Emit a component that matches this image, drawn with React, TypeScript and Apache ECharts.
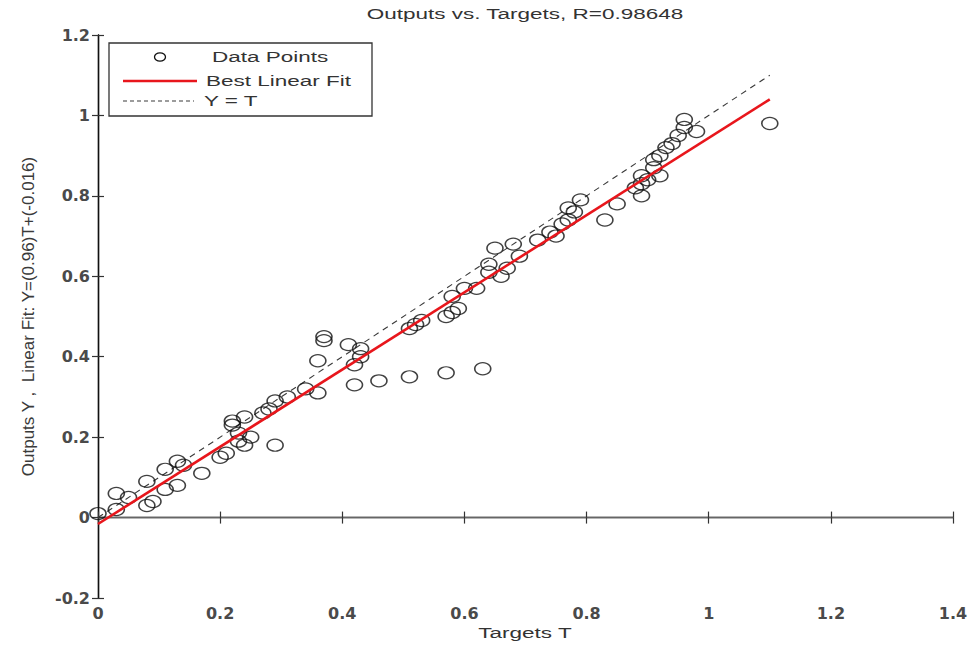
import React, { useEffect, useRef } from "react";
import * as echarts from "echarts";

const titleText = "Outputs vs. Targets, R=0.98648";
const xAxisName = "Targets T";
const yAxisName = "Outputs Y ,  Linear Fit: Y=(0.96)T+(-0.016)";
const legendLabels = ["Data Points", "Best Linear Fit", "Y = T"];

const targetsT = [
  0.0, 0.03, 0.03, 0.05, 0.08, 0.08, 0.09, 0.11, 0.11, 0.13, 0.13, 0.14, 0.17,
  0.2, 0.21, 0.22, 0.22, 0.23, 0.23, 0.24, 0.24, 0.25, 0.27, 0.28, 0.29, 0.29,
  0.31, 0.34, 0.36, 0.36, 0.37, 0.37, 0.41, 0.42, 0.42, 0.43, 0.43, 0.46, 0.51,
  0.51, 0.52, 0.53, 0.57, 0.57, 0.58, 0.58, 0.59, 0.6, 0.62, 0.63, 0.64, 0.64,
  0.65, 0.66, 0.67, 0.68, 0.69, 0.72, 0.74, 0.75, 0.76, 0.77, 0.77, 0.78, 0.79,
  0.83, 0.85, 0.88, 0.89, 0.89, 0.89, 0.9, 0.91, 0.91, 0.92, 0.92, 0.93, 0.94,
  0.95, 0.96, 0.96, 0.98, 1.1,
];
const outputsY = [
  0.01, 0.06, 0.02, 0.05, 0.09, 0.03, 0.04, 0.12, 0.07, 0.08, 0.14, 0.13, 0.11,
  0.15, 0.16, 0.23, 0.24, 0.21, 0.19, 0.18, 0.25, 0.2, 0.26, 0.27, 0.29, 0.18,
  0.3, 0.32, 0.39, 0.31, 0.45, 0.44, 0.43, 0.38, 0.33, 0.4, 0.42, 0.34, 0.35,
  0.47, 0.48, 0.49, 0.5, 0.36, 0.55, 0.51, 0.52, 0.57, 0.57, 0.37, 0.61, 0.63,
  0.67, 0.6, 0.62, 0.68, 0.65, 0.69, 0.71, 0.7, 0.73, 0.74, 0.77, 0.76, 0.79,
  0.74, 0.78, 0.82, 0.8, 0.85, 0.83, 0.84, 0.89, 0.87, 0.85, 0.9, 0.92, 0.93,
  0.95, 0.97, 0.99, 0.96, 0.98,
];

// Best linear fit endpoints (Y = 0.96 T - 0.016)
const fitLineT = [0, 1.1];
const fitLineY = [-0.016, 1.04];
// Y = T reference endpoints
const identityT = [0, 1.1];
const identityY = [0, 1.1];

const xTicks = { min: 0, max: 1.4, interval: 0.2 };
const yTicks = { min: -0.2, max: 1.2, interval: 0.2 };

export default function App() {
  const ref = useRef<HTMLDivElement>(null);

  useEffect(() => {
    if (!ref.current) return;
    const chart = echarts.init(ref.current, undefined, { renderer: "svg" });

    const labelFont = {
      fontFamily: "DejaVu Sans",
      fontWeight: "bold" as const,
      fontSize: 16,
      color: "#4a4a4a",
    };
    const axisLineStyle = { lineStyle: { color: "#444", width: 1.4 } };
    const tickStyle = {
      show: true,
      inside: true,
      length: 6,
      lineStyle: { color: "#333", width: 1.2 },
    };

    const lx = 109;
    const ly = 43;
    const stretch = 1.5;

    chart.setOption({
      animation: false,
      backgroundColor: "#fff",
      grid: { left: 98, right: 21, top: 35, bottom: 48, containLabel: false },
      xAxis: [
        {
          type: "value",
          ...xTicks,
          axisLine: axisLineStyle,
          axisTick: tickStyle,
          splitLine: { show: false },
          axisLabel: { ...labelFont, margin: 7 },
        },
        {
          type: "value",
          position: "top",
          ...xTicks,
          axisLine: { lineStyle: { color: "#666", width: 1.4 } },
          axisTick: tickStyle,
          splitLine: { show: false },
          axisLabel: { show: false },
        },
      ],
      yAxis: [
        {
          type: "value",
          ...yTicks,
          axisLine: axisLineStyle,
          axisTick: tickStyle,
          splitLine: { show: false },
          axisLabel: { ...labelFont, margin: 8 },
          name: yAxisName,
          nameLocation: "middle",
          nameGap: 61,
          nameTextStyle: {
            fontFamily: "Liberation Sans",
            fontSize: 17,
            color: "#3a3a3a",
          },
        },
        {
          type: "value",
          position: "right",
          ...yTicks,
          axisLine: { lineStyle: { color: "#111", width: 1.4 } },
          axisTick: tickStyle,
          splitLine: { show: false },
          axisLabel: { show: false },
        },
      ],
      series: [
        {
          name: legendLabels[0],
          type: "scatter",
          symbol: "circle",
          symbolSize: [16, 12],
          itemStyle: {
            color: "rgba(0,0,0,0)",
            borderColor: "#111",
            borderWidth: 1.4,
          },
          data: targetsT.map((t, i) => [t, outputsY[i]]),
          z: 3,
        },
        {
          name: legendLabels[1],
          type: "line",
          symbol: "none",
          lineStyle: { color: "#e8161c", width: 2.6 },
          data: fitLineT.map((t, i) => [t, fitLineY[i]]),
          z: 4,
        },
        {
          name: legendLabels[2],
          type: "line",
          symbol: "none",
          lineStyle: { color: "#3a3a3a", width: 1.1, type: [6, 5] },
          data: identityT.map((t, i) => [t, identityY[i]]),
          z: 2,
        },
      ],
      graphic: [
        {
          type: "text",
          x: 525,
          y: 14,
          scaleX: stretch,
          style: {
            text: titleText,
            fontFamily: "Liberation Sans",
            fontSize: 15,
            fill: "#333",
            align: "center",
            verticalAlign: "middle",
          },
        },
        {
          type: "text",
          x: 525,
          y: 633,
          scaleX: stretch,
          style: {
            text: xAxisName,
            fontFamily: "Liberation Sans",
            fontSize: 15,
            fill: "#333",
            align: "center",
            verticalAlign: "middle",
          },
        },
        {
          type: "group",
          x: lx,
          y: ly,
          z: 10,
          children: [
            {
              type: "rect",
              shape: { x: 0, y: 0, width: 263, height: 73 },
              style: { fill: "#fff", stroke: "#333", lineWidth: 1.3 },
            },
            {
              type: "ellipse",
              shape: { cx: 51, cy: 14, rx: 5.5, ry: 4.2 },
              style: { fill: "none", stroke: "#111", lineWidth: 1.3 },
            },
            {
              type: "text",
              x: 103,
              y: 14,
              scaleX: stretch,
              style: {
                text: legendLabels[0],
                fontFamily: "Liberation Sans",
                fontSize: 15,
                fill: "#333",
                align: "left",
                verticalAlign: "middle",
              },
            },
            {
              type: "line",
              shape: { x1: 14, y1: 38, x2: 88, y2: 38 },
              style: { stroke: "#e8161c", lineWidth: 2.6 },
            },
            {
              type: "text",
              x: 97,
              y: 38,
              scaleX: stretch,
              style: {
                text: legendLabels[1],
                fontFamily: "Liberation Sans",
                fontSize: 15,
                fill: "#333",
                align: "left",
                verticalAlign: "middle",
              },
            },
            {
              type: "line",
              shape: { x1: 14, y1: 58, x2: 85, y2: 58 },
              style: { stroke: "#3a3a3a", lineWidth: 1.1, lineDash: [4, 3] },
            },
            {
              type: "text",
              x: 95,
              y: 58,
              scaleX: stretch,
              style: {
                text: legendLabels[2],
                fontFamily: "Liberation Sans",
                fontSize: 15,
                fill: "#333",
                align: "left",
                verticalAlign: "middle",
              },
            },
          ],
        },
      ],
    });

    return () => chart.dispose();
  }, []);

  return (
    <div
      ref={ref}
      style={{ position: "fixed", left: 0, top: 0, width: 974, height: 646 }}
    />
  );
}
